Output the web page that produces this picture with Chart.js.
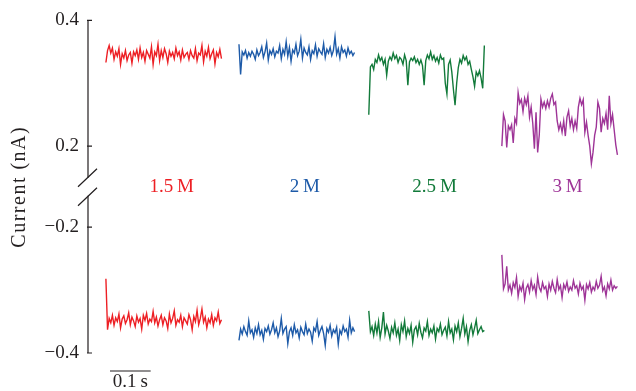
<!DOCTYPE html>
<html>
<head>
<meta charset="utf-8">
<script src="https://cdn.jsdelivr.net/npm/chart.js@4.4.1/dist/chart.umd.min.js"></script>
<style>
  html, body { margin: 0; padding: 0; background: #fff; }
  #wrap { width: 636px; height: 391px; }
</style>
</head>
<body>
<div id="wrap"><canvas id="myChart" width="636" height="391"></canvas></div>
<script>
// concentrations and colours
var labels = ['1.5\u2009M', '2\u2009M', '2.5\u2009M', '3\u2009M'];
var colors = ['#ed1f24', '#1d5aa8', '#127a3a', '#9e3497'];

// start time of each trace (s) and sample interval (s)
var startTimes = [0.044, 0.371, 0.690, 1.017];
var sampleStep = 0.004;

// upper (positive) current traces, nA
var top15 = [0.333, 0.352, 0.360, 0.348, 0.356, 0.338, 0.350, 0.343, 0.355, 0.330, 0.347, 0.340, 0.352, 0.336, 0.345, 0.349, 0.332, 0.350, 0.344, 0.353, 0.338, 0.356, 0.341, 0.349, 0.335, 0.352, 0.346, 0.340, 0.358, 0.330, 0.350, 0.344, 0.362, 0.336, 0.352, 0.341, 0.355, 0.347, 0.333, 0.351, 0.343, 0.349, 0.339, 0.356, 0.344, 0.350, 0.337, 0.353, 0.341, 0.346, 0.349, 0.338, 0.352, 0.344, 0.340, 0.355, 0.336, 0.348, 0.345, 0.360, 0.334, 0.351, 0.343, 0.357, 0.339, 0.347, 0.353, 0.331, 0.349, 0.342, 0.354, 0.339];
var top20 = [0.362, 0.314, 0.350, 0.345, 0.352, 0.340, 0.349, 0.343, 0.351, 0.346, 0.338, 0.353, 0.344, 0.349, 0.358, 0.341, 0.350, 0.364, 0.337, 0.352, 0.346, 0.355, 0.342, 0.351, 0.348, 0.360, 0.339, 0.354, 0.346, 0.366, 0.343, 0.357, 0.335, 0.353, 0.348, 0.362, 0.344, 0.351, 0.370, 0.340, 0.356, 0.349, 0.345, 0.358, 0.338, 0.352, 0.347, 0.361, 0.343, 0.355, 0.350, 0.346, 0.363, 0.341, 0.354, 0.348, 0.357, 0.344, 0.352, 0.374, 0.346, 0.355, 0.340, 0.358, 0.349, 0.353, 0.343, 0.356, 0.347, 0.351, 0.344, 0.349];
var top25 = [0.250, 0.326, 0.330, 0.322, 0.338, 0.333, 0.345, 0.336, 0.341, 0.330, 0.338, 0.313, 0.335, 0.342, 0.337, 0.348, 0.339, 0.344, 0.333, 0.341, 0.338, 0.330, 0.345, 0.336, 0.297, 0.334, 0.340, 0.336, 0.342, 0.333, 0.338, 0.330, 0.337, 0.328, 0.297, 0.336, 0.345, 0.339, 0.350, 0.338, 0.344, 0.335, 0.341, 0.332, 0.345, 0.338, 0.340, 0.300, 0.283, 0.330, 0.337, 0.318, 0.290, 0.265, 0.300, 0.325, 0.338, 0.332, 0.344, 0.337, 0.342, 0.330, 0.335, 0.322, 0.310, 0.295, 0.318, 0.312, 0.320, 0.308, 0.292, 0.360];
var top30 = [0.200, 0.250, 0.240, 0.198, 0.232, 0.226, 0.234, 0.205, 0.244, 0.236, 0.285, 0.268, 0.274, 0.255, 0.276, 0.266, 0.280, 0.246, 0.262, 0.236, 0.196, 0.254, 0.190, 0.218, 0.275, 0.262, 0.270, 0.260, 0.272, 0.262, 0.276, 0.283, 0.266, 0.270, 0.240, 0.226, 0.236, 0.222, 0.240, 0.216, 0.246, 0.256, 0.232, 0.244, 0.226, 0.240, 0.228, 0.262, 0.276, 0.266, 0.274, 0.222, 0.238, 0.217, 0.200, 0.172, 0.190, 0.217, 0.230, 0.270, 0.260, 0.222, 0.244, 0.236, 0.252, 0.226, 0.280, 0.236, 0.250, 0.226, 0.202, 0.186];

// lower (negative) current traces, nA
var bot15 = [-0.282, -0.363, -0.345, -0.352, -0.340, -0.356, -0.344, -0.350, -0.338, -0.360, -0.346, -0.341, -0.353, -0.347, -0.336, -0.355, -0.343, -0.349, -0.358, -0.341, -0.351, -0.345, -0.362, -0.340, -0.348, -0.337, -0.354, -0.346, -0.350, -0.334, -0.352, -0.343, -0.357, -0.347, -0.340, -0.355, -0.344, -0.349, -0.361, -0.338, -0.352, -0.345, -0.333, -0.356, -0.347, -0.351, -0.340, -0.358, -0.344, -0.349, -0.354, -0.339, -0.347, -0.363, -0.342, -0.350, -0.332, -0.355, -0.345, -0.330, -0.351, -0.343, -0.360, -0.346, -0.352, -0.339, -0.356, -0.344, -0.349, -0.335, -0.353, -0.347];
var bot20 = [-0.380, -0.362, -0.370, -0.358, -0.366, -0.372, -0.349, -0.368, -0.363, -0.375, -0.360, -0.369, -0.355, -0.371, -0.364, -0.378, -0.361, -0.366, -0.357, -0.370, -0.363, -0.352, -0.368, -0.360, -0.374, -0.365, -0.345, -0.369, -0.362, -0.358, -0.385, -0.366, -0.360, -0.372, -0.355, -0.368, -0.363, -0.376, -0.359, -0.366, -0.371, -0.354, -0.369, -0.362, -0.367, -0.381, -0.360, -0.365, -0.350, -0.372, -0.364, -0.358, -0.369, -0.388, -0.361, -0.367, -0.356, -0.373, -0.363, -0.368, -0.359, -0.386, -0.364, -0.370, -0.357, -0.366, -0.362, -0.375, -0.348, -0.368, -0.360, -0.366];
var bot25 = [-0.333, -0.366, -0.358, -0.372, -0.354, -0.368, -0.350, -0.375, -0.360, -0.335, -0.370, -0.356, -0.365, -0.377, -0.359, -0.368, -0.352, -0.372, -0.362, -0.380, -0.355, -0.366, -0.349, -0.374, -0.361, -0.369, -0.356, -0.383, -0.363, -0.358, -0.371, -0.353, -0.367, -0.376, -0.360, -0.365, -0.350, -0.372, -0.362, -0.368, -0.357, -0.378, -0.361, -0.366, -0.354, -0.371, -0.364, -0.359, -0.373, -0.350, -0.368, -0.362, -0.379, -0.357, -0.366, -0.352, -0.374, -0.361, -0.345, -0.370, -0.358, -0.382, -0.364, -0.355, -0.371, -0.360, -0.348, -0.369, -0.363, -0.358, -0.366, -0.364];
var bot30 = [-0.244, -0.298, -0.290, -0.262, -0.300, -0.292, -0.305, -0.288, -0.296, -0.280, -0.310, -0.294, -0.301, -0.289, -0.315, -0.297, -0.291, -0.303, -0.285, -0.299, -0.292, -0.307, -0.279, -0.296, -0.302, -0.288, -0.298, -0.294, -0.310, -0.290, -0.300, -0.286, -0.297, -0.304, -0.283, -0.299, -0.293, -0.312, -0.291, -0.298, -0.287, -0.302, -0.295, -0.300, -0.285, -0.297, -0.293, -0.306, -0.289, -0.299, -0.294, -0.316, -0.291, -0.298, -0.288, -0.303, -0.295, -0.300, -0.286, -0.297, -0.292, -0.278, -0.301, -0.295, -0.309, -0.290, -0.298, -0.284, -0.300, -0.293, -0.297, -0.294];

var topTicks = [0.2, 0.4];
var botTicks = [-0.4, -0.2];

// scale bar: 0.1 s
var scaleBarStart = 0.054;
var scaleBarLength = 0.1;

var topTraces = [top15, top20, top25, top30];
var botTraces = [bot15, bot20, bot25, bot30];

function toPoints(values, t0) {
    return values.map(function (v, i) { return { x: t0 + i * sampleStep, y: v }; });
}

var datasets = [];
for (var k = 0; k < labels.length; k++) {
    datasets.push({ label: labels[k], data: toPoints(topTraces[k], startTimes[k]), yAxisID: 'yTop',
        borderColor: colors[k], borderWidth: 1.4, pointRadius: 0, tension: 0 });
    datasets.push({ label: labels[k], data: toPoints(botTraces[k], startTimes[k]), yAxisID: 'yBot',
        borderColor: colors[k], borderWidth: 1.4, pointRadius: 0, tension: 0 });
}

var ink = '#231f20';
var serif = "'Liberation Serif', 'DejaVu Serif', serif";
Chart.defaults.font.family = serif;
Chart.defaults.font.size = 19;
Chart.defaults.color = ink;

function minusSign(v) { return String(v).replace('-', '\u2212'); }

var brokenAxis = {
    id: 'brokenAxis',
    afterDraw: function (chart) {
        var c = chart.ctx;
        var yt = chart.scales.yTop, yb = chart.scales.yBot, xs = chart.scales.x;
        var ax = chart.chartArea.left;
        var mid = (yt.bottom + yb.top) / 2;
        c.save();
        c.strokeStyle = ink;
        c.lineWidth = 1.2;
        // axis line in two pieces
        c.beginPath();
        c.moveTo(ax, yt.getPixelForValue(0.4));
        c.lineTo(ax, mid - 8);
        c.moveTo(ax, mid + 10);
        c.lineTo(ax, yb.getPixelForValue(-0.4));
        c.stroke();
        // ticks
        c.beginPath();
        topTicks.forEach(function (v) { var y = yt.getPixelForValue(v); c.moveTo(ax - 1, y); c.lineTo(ax + 4, y); });
        botTicks.forEach(function (v) { var y = yb.getPixelForValue(v); c.moveTo(ax - 1, y); c.lineTo(ax + 4, y); });
        c.stroke();
        // break marks
        c.beginPath();
        c.moveTo(ax - 10, mid + 1); c.lineTo(ax + 9, mid - 17);
        c.moveTo(ax - 10, mid + 20); c.lineTo(ax + 9, mid + 2);
        c.stroke();
        // axis title
        c.fillStyle = ink;
        c.textAlign = 'center';
        c.textBaseline = 'middle';
        c.save();
        c.font = '20px ' + serif;
        c.letterSpacing = '1.5px';
        c.translate(20, mid + 1);
        c.rotate(-Math.PI / 2);
        c.fillText('Current (nA)', 0, 0);
        c.restore();
        c.font = '19px ' + serif;
        // concentration labels
        for (var k = 0; k < labels.length; k++) {
            var n = topTraces[k].length - 1;
            var cx = xs.getPixelForValue(startTimes[k] + n * sampleStep / 2);
            c.fillStyle = colors[k];
            c.fillText(labels[k], cx + 8, mid + 1);
        }
        // scale bar
        var x0 = xs.getPixelForValue(scaleBarStart), x1 = xs.getPixelForValue(scaleBarStart + scaleBarLength);
        var by = yb.getPixelForValue(-0.4) + 18;
        c.beginPath();
        c.moveTo(x0, by); c.lineTo(x1, by);
        c.stroke();
        c.fillStyle = ink;
        c.textBaseline = 'top';
        c.fillText('0.1\u2009s', (x0 + x1) / 2, by + 2);
        c.restore();
    }
};

function fixWidth(scale) { scale.width = 88; }

var ctx = document.getElementById('myChart').getContext('2d');
var myChart = new Chart(ctx, {
    type: 'line',
    data: { datasets: datasets },
    options: {
        responsive: false,
        animation: false,
        layout: { padding: { top: 19, bottom: 38, right: 8, left: 0 } },
        plugins: { legend: { display: false }, tooltip: { enabled: false } },
        scales: {
            x: { type: 'linear', display: false, min: 0, max: 1.327 },
            yBot: {
                type: 'linear', position: 'left', stack: 'y', stackWeight: 168,
                min: -0.4, max: -0.134,
                grid: { display: false, drawTicks: false }, border: { display: false },
                afterBuildTicks: function (s) { s.ticks = botTicks.map(function (v) { return { value: v }; }); },
                afterFit: fixWidth,
                ticks: { padding: 9, callback: function (v) { return minusSign(v.toFixed(1)); } }
            },
            yTop: {
                type: 'linear', position: 'left', stack: 'y', stackWeight: 166,
                min: 0.137, max: 0.4,
                grid: { display: false, drawTicks: false }, border: { display: false },
                afterBuildTicks: function (s) { s.ticks = topTicks.map(function (v) { return { value: v }; }); },
                afterFit: fixWidth,
                ticks: { padding: 9, callback: function (v) { return v.toFixed(1); } }
            }
        }
    },
    plugins: [brokenAxis]
});
</script>
</body>
</html>
